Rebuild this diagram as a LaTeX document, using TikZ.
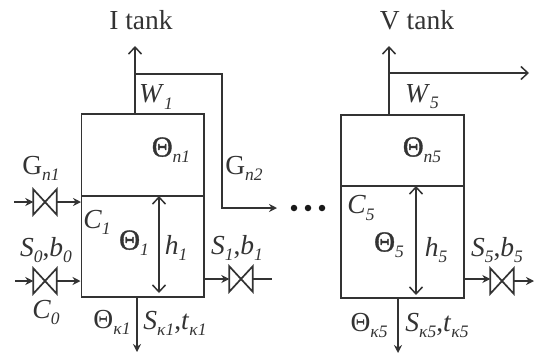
\documentclass[tikz,border=0pt]{standalone}
\usepackage{fontspec}
\setmainfont{Liberation Serif}
\newfontfamily\thfont[AutoFakeBold=1.2]{Liberation Serif}
\usetikzlibrary{arrows.meta}
\newcommand{\sbs}[1]{\raisebox{-0.22em}{\fontsize{17.5}{17.5}\selectfont\itshape #1}}
\newcommand{\Th}{{\fontsize{29}{29}\selectfont\thfont\bfseries Θ}}
\tikzset{
  x=1pt,y=-1pt,
  ln/.style={line width=1.7pt,draw=black!80},
  tankbox/.style={ln,rectangle,inner sep=0pt,anchor=north west},
  openarr/.style={ln,-{Straight Barb[length=7pt,width=13pt,line width=1.5pt]}},
  solidarr/.style={ln,-{Stealth[length=8pt,width=8pt]}},
  dbl/.style={ln,{Straight Barb[length=7pt,width=13pt,line width=1.5pt]}-{Straight Barb[length=7pt,width=13pt,line width=1.5pt]}},
  valvebox/.style={inner sep=0pt,minimum width=23pt,minimum height=25pt},
  lab/.style={inner sep=0pt,text=black!80,font=\fontsize{27.5}{27.5}\selectfont},
  dotn/.style={circle,fill=black!90,inner sep=0pt,minimum size=6.5pt},
}
\newcommand{\valve}[3]{\node[valvebox] (#1) at (#2,#3) {};
  \draw[ln] (#1.north west)--(#1.south east)--(#1.north east)--(#1.south west)--cycle;}
\begin{document}
\begin{tikzpicture}
\useasboundingbox (0,0) rectangle (534,359);
% tanks
\node[tankbox,minimum width=122.5pt,minimum height=82pt] (up1) at (80.5,113) {};
\node[tankbox,minimum width=122.5pt,minimum height=101pt] (lo1) at (80.5,195) {};
\node[tankbox,minimum width=123pt,minimum height=71pt] (up5) at (340,114) {};
\node[tankbox,minimum width=123pt,minimum height=112pt] (lo5) at (340,185) {};
% valves
\valve{vg}{45}{202}
\valve{vs}{45}{281}
\valve{vo}{241}{279}
\valve{vf}{502}{281}
% free ends
\coordinate (top1a) at (135,113); \coordinate (top1b) at (135,46); \coordinate (br1) at (135,74);
\coordinate (br1c) at (222,74); \coordinate (br1d) at (222,208); \coordinate (br1e) at (277,208);
\coordinate (top5a) at (389,114); \coordinate (top5b) at (389,46); \coordinate (br5) at (389,73); \coordinate (br5e) at (529,73);
\coordinate (ing) at (81,202); \coordinate (ings) at (14,202);
\coordinate (ins) at (80.5,281); \coordinate (inss) at (15,281);
\coordinate (out1) at (203,279); \coordinate (out1e) at (272,279);
\coordinate (out5) at (463,279); \coordinate (out5e) at (534,281);
\coordinate (h1t) at (159,196); \coordinate (h1b) at (159,293);
\coordinate (h5t) at (416,186); \coordinate (h5b) at (416,295);
\coordinate (d1a) at (137,296); \coordinate (d1b) at (137,352);
\coordinate (d5a) at (398,297); \coordinate (d5b) at (398,353);
% connectors
\draw[openarr] (top1a)--(top1b);
\draw[solidarr] (br1)--(br1c)--(br1d)--(br1e);
\draw[openarr] (top5a)--(top5b);
\draw[openarr] (br5)--(br5e);
\draw[solidarr] (ings)--(vg.west);
\draw[solidarr] (vg.east)--(ing);
\draw[solidarr] (inss)--(vs.west);
\draw[solidarr] (vs.east)--(ins);
\draw[solidarr] (out1)--(vo.west);
\draw[ln] (vo.east)--(out1e);
\draw[solidarr] (out5)--(vf.west |- out5);
\draw[solidarr] (vf.east)--(out5e);
\draw[dbl] (h1t)--(h1b);
\draw[dbl] (h5t)--(h5b);
\draw[solidarr] (d1a)--(d1b);
\draw[solidarr] (d5a)--(d5b);
% dots
\node[dotn] (dt1) at (294,208) {};
\node[dotn] (dt2) at (308,208) {};
\node[dotn] (dt3) at (322,208) {};
% labels
\node[lab] (t1) at (141,20) {I tank};
\node[lab] (t5) at (417,20) {V tank};
\node[lab] (w1) at (156,97) {\textit{W}\sbs{1}};
\node[lab] (w5) at (422,97) {\textit{W}\sbs{5}};
\node[lab] (tn1) at (171,150) {\Th\sbs{n1}};
\node[lab] (tn5) at (422,150) {\Th\sbs{n5}};
\node[lab] (gn1) at (41,168) {G\sbs{n1}};
\node[lab] (gn2) at (244,168) {G\sbs{n2}};
\node[lab] (c1) at (97,222) {\textit{C}\sbs{1}};
\node[lab] (c5) at (361,208) {\textit{C}\sbs{5}};
\node[lab] (s0) at (46,250) {\textit{S}\sbs{0},\textit{b}\sbs{0}};
\node[lab] (c0) at (46,312) {\textit{C}\sbs{0}};
\node[lab] (th1) at (134,243) {\Th\sbs{1}};
\node[lab] (th5) at (389,245) {\Th\sbs{5}};
\node[lab] (h1) at (176,248) {\textit{h}\sbs{1}};
\node[lab] (h5) at (436,250) {\textit{h}\sbs{5}};
\node[lab] (s1) at (237,248) {\textit{S}\sbs{1},\textit{b}\sbs{1}};
\node[lab] (s5) at (497,250) {\textit{S}\sbs{5},\textit{b}\sbs{5}};
\node[lab] (tk1) at (112,322) {Θ\sbs{κ1}};
\node[lab] (tk5) at (369,325) {Θ\sbs{κ5}};
\node[lab] (sk1) at (175,323) {\textit{S}\sbs{κ1},\textit{t}\sbs{κ1}};
\node[lab] (sk5) at (437,325) {\textit{S}\sbs{κ5},\textit{t}\sbs{κ5}};
\end{tikzpicture}
\end{document}
